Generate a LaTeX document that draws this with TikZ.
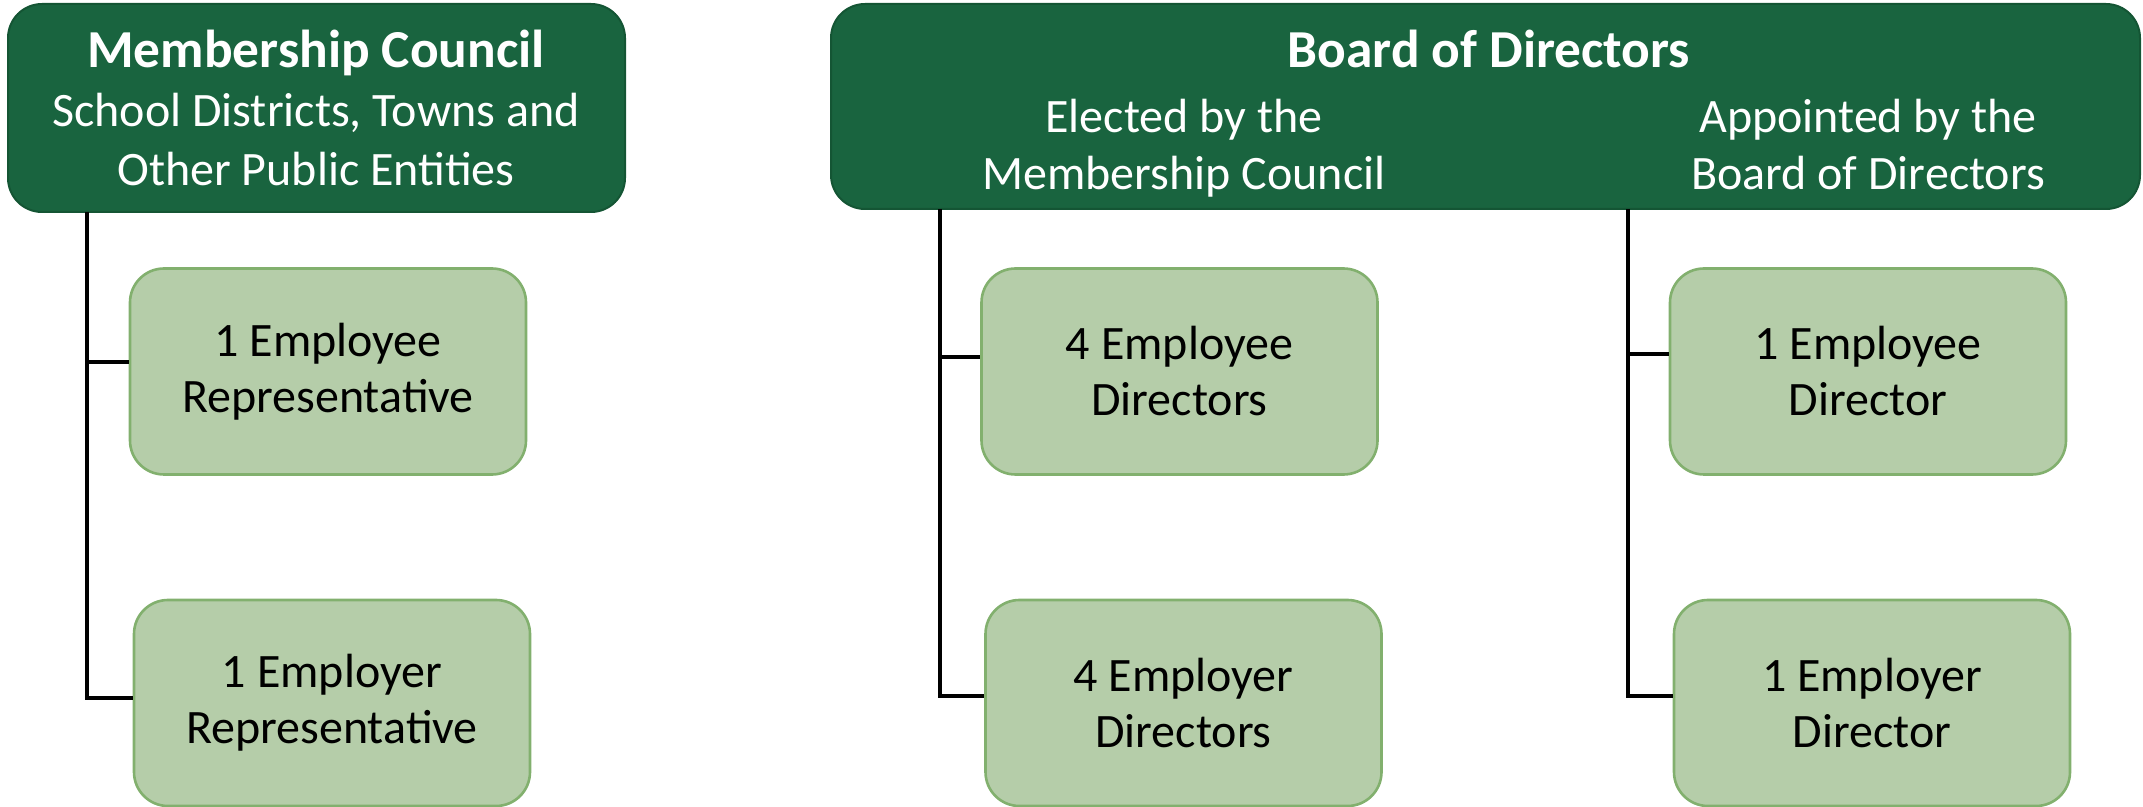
\documentclass[tikz,border=0pt]{standalone}
\usepackage{fontspec}
\setmainfont{Carlito}
\definecolor{darkg}{RGB}{25,100,63}
\definecolor{darkgb}{RGB}{20,85,52}
\definecolor{lightg}{RGB}{181,205,169}
\definecolor{lightgb}{RGB}{130,176,110}
\tikzset{
  headbox/.style={draw=darkgb, fill=darkg, line width=1pt, rounded corners=17pt, inner sep=0pt},
  subbox/.style={draw=lightgb, fill=lightg, line width=1.3pt, rounded corners=17pt, inner sep=0pt,
    minimum width=198pt, minimum height=103pt, align=center, text=black,
    font=\fontsize{24}{28}\selectfont},
  titletxt/.style={text=white, align=center, inner sep=0pt, font=\fontsize{26.7}{32}\selectfont\bfseries},
  headtxt/.style={text=white, align=center, inner sep=0pt, font=\fontsize{24}{29.75}\selectfont},
  bodtxt/.style={text=white, align=center, inner sep=0pt, font=\fontsize{24}{28.7}\selectfont},
  conn/.style={draw=black, line width=1.6pt}
}
\begin{document}
\begin{tikzpicture}[x=0.5pt,y=-0.5pt]
\useasboundingbox (0,0) rectangle (2143,807);
% header boxes
\node[headbox, minimum width=308.5pt, minimum height=104pt] (mc) at (316.5,108) {};
\node[headbox, minimum width=654.5pt, minimum height=102.5pt] (bod) at (1485.5,106.5) {};
% header texts
\node[titletxt, anchor=base] (mct) at (316,68) {Membership Council};
\node[headtxt, anchor=base] (mcs) at (316,186) {School Districts, Towns and\\Other Public Entities};
\node[titletxt, anchor=base] (bodt) at (1489,68) {Board of Directors};
\node[bodtxt, anchor=base] (bode) at (1184,190) {Elected by the\\Membership Council};
\node[bodtxt, anchor=base] (boda) at (1868,190) {Appointed by the\\Board of Directors};
% sub boxes
\node[subbox] (a1) at (328,371.5) {1 Employee\\Representative};
\node[subbox] (a2) at (332,703) {1 Employer\\Representative};
\node[subbox] (b1) at (1179.5,371.5) {4 Employee\\Directors};
\node[subbox] (b2) at (1183.5,703) {4 Employer\\Directors};
\node[subbox] (c1) at (1868,371.5) {1 Employee\\Director};
\node[subbox] (c2) at (1872,703) {1 Employer\\Director};
% trunk coordinates
\coordinate (lt) at (87,212);
\coordinate (mt) at (940,209);
\coordinate (rt) at (1628,209);
% connectors
\draw[conn] (lt) -- (lt |- 0,698) -- (a2.west |- 0,698);
\draw[conn] (lt |- 0,362) -- (a1.west |- 0,362);
\draw[conn] (mt) -- (mt |- 0,696) -- (b2.west |- 0,696);
\draw[conn] (mt |- 0,357) -- (b1.west |- 0,357);
\draw[conn] (rt) -- (rt |- 0,696) -- (c2.west |- 0,696);
\draw[conn] (rt |- 0,354) -- (c1.west |- 0,354);
\end{tikzpicture}
\end{document}
